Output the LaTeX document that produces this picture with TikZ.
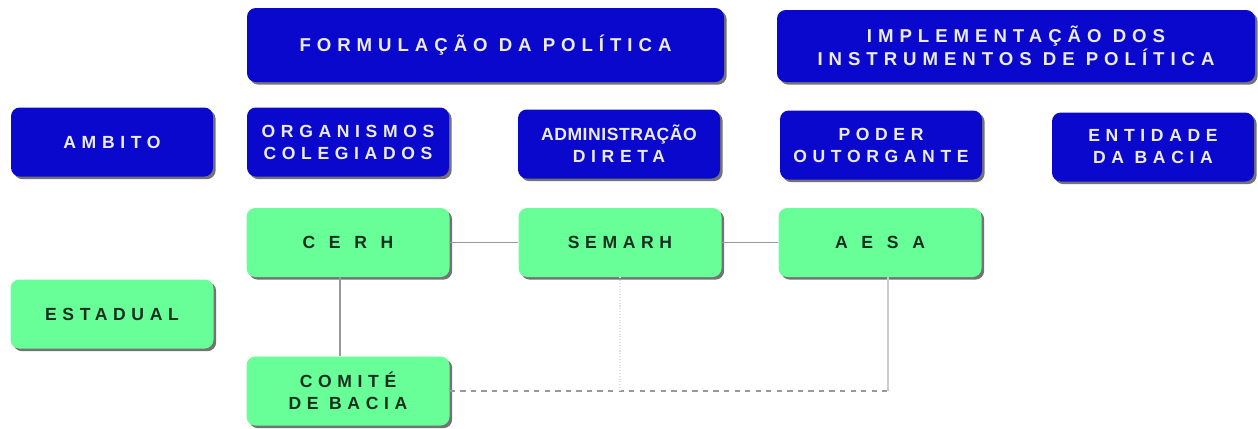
\documentclass[tikz,border=0pt]{standalone}
\usepackage{fontspec}
\setmainfont{Liberation Sans}
\newfontfamily\boxfont[LetterSpace=32]{Liberation Sans}
\newfontfamily\tightfont[LetterSpace=3]{Liberation Sans}
\newfontfamily\widefont[LetterSpace=78]{Liberation Sans}
\usetikzlibrary{shadows}
\definecolor{boxblue}{RGB}{10,8,205}
\definecolor{boxgreen}{RGB}{104,255,152}
\definecolor{inkgreen}{RGB}{22,48,30}
\tikzset{
  every box/.style={rounded corners=5pt, align=center, inner sep=0pt,
    drop shadow={shadow xshift=1.5pt, shadow yshift=-1.5pt, fill=black, opacity=.55}},
  blue box/.style={every box, fill=boxblue, text=white!92!black,
    font=\boxfont\bfseries\fontsize{10}{12.5}\selectfont},
  head box/.style={blue box, font=\boxfont\bfseries\fontsize{10.6}{12.8}\selectfont},
  green box/.style={every box, fill=boxgreen, text=inkgreen,
    font=\boxfont\bfseries\fontsize{10}{12.5}\selectfont,
    minimum width=4.06cm, minimum height=1.38cm},
  link/.style={draw=black!40, line width=.6pt},
}

\begin{document}
\begin{tikzpicture}
\useasboundingbox (0,0) rectangle (25.16,-8.56);
% cabecalhos
\node[head box, minimum width=9.54cm, minimum height=1.48cm] (formul) at (9.71,-0.90)
  {FORMULAÇÃO DA POLÍTICA};
\node[head box, minimum width=9.56cm, minimum height=1.44cm] (implem) at (20.32,-0.92)
  {IMPLEMENTAÇÃO DOS\\INSTRUMENTOS DE POLÍTICA};
% tipos de organismo
\foreach \nm/\x/\y/\txt in {ambito/2.24/2.84/AMBITO,
    orgcol/6.96/2.84/{ORGANISMOS\\COLEGIADOS},
    admdir/12.38/2.88/{{\tightfont ADMINISTRAÇÃO}\\DIRETA},
    poder/17.62/2.90/{PODER\\OUTORGANTE},
    entid/23.06/2.94/{ENTIDADE\\DA BACIA}}
  \node[blue box, minimum width=4.04cm, minimum height=1.38cm] (\nm) at (\x,-\y) {\txt};
% orgaos estaduais
\node[green box] (cerh) at (6.96,-4.85) {\widefont CERH};
\node[green box] (semarh) at (12.40,-4.85) {SEMARH};
\node[green box] (aesa) at (17.60,-4.85) {\widefont AESA};
\node[green box] (estad) at (2.24,-6.28) {ESTADUAL};
\node[green box] (comite) at (6.96,-7.82) {COMITÉ\\DE BACIA};
% ligacoes
\coordinate (joint) at ([xshift=.16cm]aesa.south |- comite.east);
\draw[link] (cerh) -- (semarh);
\draw[link] (semarh) -- (aesa);
\draw[link] ([xshift=-.16cm]cerh.south) -- ([xshift=-.16cm]comite.north);
\draw[link, dashed] (comite.east) -- (joint);
\draw[link, draw=black!20] (joint |- aesa.south) -- (joint);
\draw[link, draw=black!12, densely dotted] (semarh.south) -- (semarh.south |- joint);
\end{tikzpicture}
\end{document}
